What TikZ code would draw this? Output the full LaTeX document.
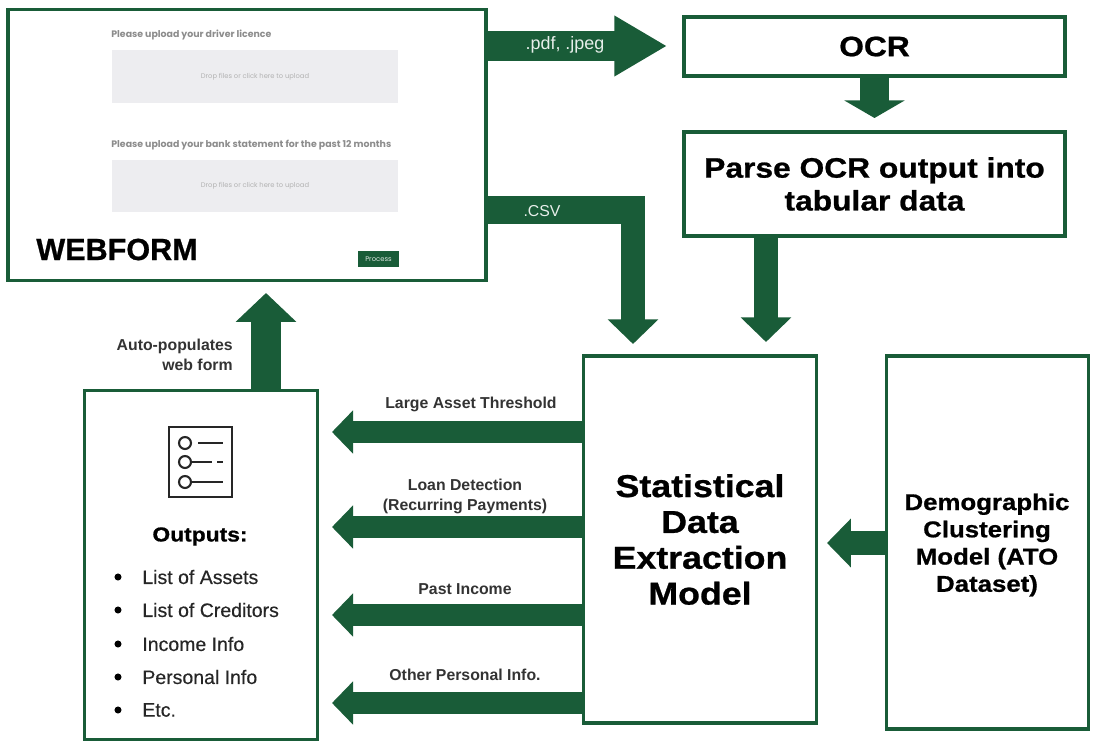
\documentclass[tikz,border=0pt]{standalone}
\usepackage{fontspec}
\usepackage{tikz}
\usetikzlibrary{arrows.meta}
\setmainfont{Liberation Sans}
\newfontfamily\formfont{Poppins}
\newfontfamily\heavyfont[FakeBold=0.8]{Liberation Sans Bold}
\newfontfamily\widefont[FakeBold=0.8, FakeStretch=1.13]{Liberation Sans Bold}
\newfontfamily\listfont[FakeBold=0.3]{Liberation Sans}
\definecolor{boxgreen}{rgb}{0.10,0.36,0.22}
\definecolor{formgrey}{rgb}{0.93,0.93,0.94}
\tikzset{
	flowbox/.style={draw=boxgreen, line width=2pt, fill=white, inner sep=0pt, align=center, font=\widefont\fontsize{16}{18.7}\selectfont},
	bigarrow/.style n args={3}{draw=boxgreen, line width=#1, -{Triangle[length=#2, width=#3, fill=boxgreen]}},
	lbl/.style={font=\fontsize{9}{11.3}\selectfont\bfseries, text=black!80, align=center, inner sep=0pt},
	listlbl/.style={font=\listfont\fontsize{11.1}{13}\selectfont, text=black!85, anchor=west, inner sep=0pt},
	formtitle/.style={font=\formfont\bfseries\fontsize{5.35}{6}\selectfont, text=black!45, anchor=west, inner sep=0pt},
	formdrop/.style={fill=formgrey, minimum width=288*0.5669pt, minimum height=53*0.5669pt, inner sep=0pt, font=\formfont\fontsize{3.85}{4}\selectfont, text=black!30}
}
\begin{document}
\begin{tikzpicture}[x=0.02cm, y=-0.02cm]
	\useasboundingbox[fill=white] (0, 0) rectangle (1093, 747);
	% boxes
	\node[flowbox, minimum width=480*0.5669pt, minimum height=272*0.5669pt] (webform) at (247, 145) {};
	\node[flowbox, minimum width=383*0.5669pt, minimum height=59*0.5669pt] (ocr) at (874.5, 46.5) {OCR};
	\node[flowbox, minimum width=383*0.5669pt, minimum height=104*0.5669pt] (parse) at (874.5, 184) {Parse OCR output into\\tabular data};
	\node[flowbox, minimum width=234*0.5669pt, minimum height=368*0.5669pt, font=\widefont\fontsize{18}{20.4}\selectfont] (model) at (700, 539.5) {Statistical\\Data\\Extraction\\Model};
	\node[flowbox, minimum width=203*0.5669pt, minimum height=375*0.5669pt] (demo) at (987.5, 542.5) {};
	\node[font=\widefont\fontsize{13}{15.5}\selectfont, align=center, inner sep=0pt] (demotext) at (987, 545) {Demographic\\Clustering\\Model (ATO\\Dataset)};
	\node[flowbox, minimum width=234*0.5669pt, minimum height=350*0.5669pt] (outputs) at (201, 565) {};
	% webform content
	\node[formtitle] (licence) at (111, 35) {Please upload your driver licence};
	\node[formdrop] (dropa) at (255, 76.5) {Drop files or click here to upload};
	\node[formtitle] (statement) at (111, 145) {Please upload your bank statement for the past 12 months};
	\node[formdrop] (dropb) at (255, 186) {Drop files or click here to upload};
	\node[fill=boxgreen, text=white!85!boxgreen, minimum width=41*0.5669pt, minimum height=16*0.5669pt, inner sep=0pt, font=\formfont\fontsize{3.9}{4}\selectfont] (process) at (378.5, 259) {Process};
	\node[font=\heavyfont\fontsize{17.4}{20}\selectfont, inner sep=0pt, anchor=west] (webtitle) at (36, 249.5) {WEBFORM};
	% free ends
	\coordinate (pdfend) at (667, 46);
	\coordinate (ocrend) at (874.5, 118);
	\coordinate (csvturn) at (645, 210);
	\coordinate (csvtop) at (633, 196);
	\coordinate (csvend) at (633, 344);
	\coordinate (parseend) at (766, 342);
	\coordinate (formend) at (266, 293);
	\coordinate (demoend) at (827, 543);
	\coordinate (assetend) at (332, 432);
	\coordinate (loanend) at (332, 527);
	\coordinate (incomeend) at (332, 615);
	\coordinate (otherend) at (332, 703);
	% arrows
	\draw[bigarrow={17pt}{30pt}{32.5pt}] (webform.east |- pdfend) -- (pdfend);
	\draw[bigarrow={16.5pt}{10pt}{34pt}] (ocr.south) -- (ocrend);
	\draw[draw=boxgreen, line width=16pt] (webform.east |- csvturn) -- (csvturn);
	\draw[bigarrow={13.6pt}{14pt}{28pt}] (csvtop) -- (csvend);
	\draw[bigarrow={13.6pt}{14pt}{28pt}] (parse.south -| parseend) -- (parseend);
	\draw[bigarrow={17pt}{16.4pt}{33.5pt}] (outputs.north -| formend) -- (formend);
	\draw[bigarrow={14pt}{13.6pt}{27pt}] (demo.west |- demoend) -- (demoend);
	\foreach \x in {assetend, loanend, incomeend, otherend}
		\draw[bigarrow={12pt}{12pt}{24pt}] (model.west |- \x) -- (\x);
	% arrow labels
	\node[font=\fontsize{10.2}{11}\selectfont, text=white!90!boxgreen, inner sep=0pt] (pdflbl) at (565, 45) {.pdf, .jpeg};
	\node[font=\fontsize{9}{11}\selectfont, text=white!90!boxgreen, inner sep=0pt] (csvlbl) at (542, 211) {.CSV};
	\node[lbl, align=right, anchor=east] (autolbl) at (233, 354.5) {Auto-populates\\web form};
	\node[lbl] (assetlbl) at (471, 404) {Large Asset Threshold};
	\node[lbl] (loanlbl) at (465, 496.5) {Loan Detection\\(Recurring Payments)};
	\node[lbl] (incomelbl) at (465, 589) {Past Income};
	\node[lbl] (otherlbl) at (465, 675) {Other Personal Info.};
	% outputs content
	\node[draw=black!85, line width=1.4pt, minimum width=63*0.5669pt, minimum height=70*0.5669pt, inner sep=0pt] (icon) at (200.5, 462) {};
	\foreach \y/\n in {443/a, 462/b, 482/c}
		\node[draw=black!85, circle, line width=1.2pt, minimum size=12*0.5669pt, inner sep=0pt] (dot\n) at (185, \y) {};
	\coordinate (linea) at (223, 443);
	\coordinate (lineb) at (212, 462);
	\coordinate (dashb) at (217, 462);
	\coordinate (endb) at (223, 462);
	\coordinate (linec) at (223, 482);
	\draw[black!85, line width=1.2pt] ([xshift=3.4pt]dota.east) -- (linea);
	\draw[black!85, line width=1.2pt] (dotb.east) -- (lineb);
	\draw[black!85, line width=1.2pt] (dashb) -- (endb);
	\draw[black!85, line width=1.2pt] (dotc.east) -- (linec);
	\node[font=\widefont\fontsize{11.5}{14}\selectfont, inner sep=0pt] (outtitle) at (200, 536.5) {Outputs:};
	\foreach \y/\t in {577/List of Assets, 610/List of Creditors, 644/Income Info, 677/Personal Info, 710/Etc.} {
		\fill (118, \y) circle (2pt);
		\node[listlbl] at (142, \y) {\t};
	}
\end{tikzpicture}
\end{document}
